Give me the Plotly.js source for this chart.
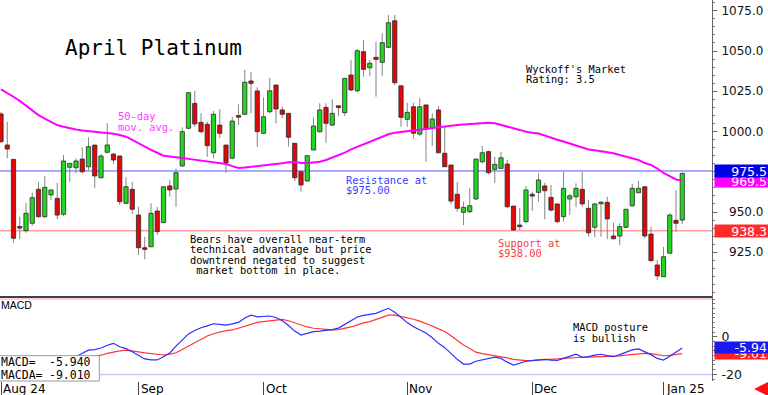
<!DOCTYPE html>
<html><head><meta charset="utf-8">
<script src="https://cdn.plot.ly/plotly-3.0.1.min.js"></script>
<style>html,body{margin:0;padding:0;background:#fff;} #chart{width:768px;height:395px;}</style>
</head><body><div id="chart"></div>
<script>
// ---- data ----
const openP  = [1010.9,991.6,982.7,940.7,938.4,943.0,964.1,947.1,960.6,958.5,948.6,977.8,977.5,982.9,978.1,991.6,971.3,987.1,986.0,984.8,955.4,964.1,948.1,927.8,928.4,950.6,943.4,966.2,964.3,978.6,1002.0,1017.5,1005.7,1004.5,986.8,1004.0,991.6,983.4,1009.6,1010.7,1031.4,1025.2,998.9,1012.3,1028.9,1013.4,1011.3,992.7,975.0,969.3,988.5,999.9,1015.0,1004.0,1016.0,1011.7,1035.1,1025.3,1049.6,1039.6,1046.1,1043.0,1052.3,1068.8,1028.4,1007.6,1015.4,998.4,1016.5,1002.4,1013.4,986.5,979.2,961.0,949.8,950.2,958.1,981.2,987.5,976.5,977.1,979.8,953.7,941.9,944.0,961.0,962.2,966.2,959.1,955.0,947.1,958.1,959.5,964.1,952.3,940.5,955.2,956.0,935.1,935.1,940.5,953.9,962.0,965.7,936.3,917.1,909.8,924.4,944.8,945.0];
const highP  = [1012.1,1006.1,982.9,947.1,955.8,962.0,968.8,972.4,963.7,968.2,985.4,980.2,983.4,990.2,996.4,991.6,986.0,1005.1,986.5,984.8,971.6,968.8,953.3,934.7,955.4,953.3,965.7,969.9,977.1,1002.6,1024.7,1025.3,1011.3,1006.1,1012.9,1013.8,991.6,1009.2,1016.9,1038.2,1037.1,1027.5,1021.2,1033.4,1028.9,1015.4,1011.3,992.7,975.0,985.0,1008.8,1017.5,1017.5,1020.0,1016.0,1033.0,1044.4,1051.2,1056.8,1044.4,1055.8,1061.0,1072.4,1072.4,1028.4,1017.9,1017.9,1020.6,1016.5,1011.3,1015.8,1003.0,979.2,968.8,956.4,964.7,982.9,991.0,988.1,984.3,987.5,982.3,953.7,952.5,966.2,962.6,974.0,968.2,966.8,955.0,975.0,961.2,967.8,975.0,957.5,955.4,956.8,959.5,943.4,943.0,951.7,967.4,969.3,965.7,940.9,920.2,928.4,949.2,963.7,974.4];
const lowP   = [992.9,983.4,930.9,933.0,937.1,941.3,946.1,946.1,957.5,945.5,947.5,968.8,974.0,974.0,976.1,965.1,970.9,986.5,979.8,954.4,955.0,948.8,923.3,920.6,928.4,935.7,943.2,959.5,953.3,978.1,1001.4,1003.0,998.9,984.3,983.4,995.8,974.4,982.7,1004.0,1010.2,1011.3,990.6,998.4,1011.3,1005.1,1008.2,990.6,969.3,962.6,968.8,988.5,999.3,993.0,1003.4,1009.6,1009.6,1025.2,1024.1,1034.0,1034.5,1021.6,1034.5,1051.7,1028.9,1003.0,1003.0,995.8,997.2,981.2,991.0,986.5,978.1,954.8,950.2,941.9,949.2,957.5,980.2,973.4,968.2,977.1,952.3,938.4,938.8,943.0,950.8,956.4,945.5,950.2,943.0,944.0,948.1,953.3,953.3,934.7,934.3,934.7,933.2,933.0,929.5,940.1,953.3,961.6,933.7,919.1,907.8,909.8,924.4,937.8,942.5];
const closeP = [993.7,989.1,933.7,940.3,949.2,958.9,947.1,965.3,963.7,948.1,981.7,980.2,981.7,975.0,990.6,972.4,984.8,991.6,982.3,956.4,965.7,951.7,927.8,926.8,949.2,937.8,965.7,963.7,974.4,999.9,1024.1,1004.7,999.9,991.2,1010.7,998.9,980.6,1006.5,1009.2,1030.6,1029.9,999.9,1009.2,1025.3,1014.0,1010.7,996.4,971.3,966.8,985.0,1003.4,1013.4,1005.1,1011.3,1014.8,1033.0,1025.8,1050.2,1038.6,1042.4,1044.8,1055.2,1067.6,1030.3,1008.8,1011.9,998.9,1015.4,1001.4,1007.8,986.8,978.1,956.8,952.3,952.9,953.9,982.9,986.8,974.4,979.6,983.7,953.3,938.8,940.9,963.7,959.9,969.9,963.2,951.2,944.0,964.7,960.1,964.7,955.0,937.1,955.0,956.0,945.7,933.4,940.9,951.7,964.7,964.7,935.1,919.8,910.3,922.2,948.1,943.0,974.0];
const ma50   = [1026.2,1024,1021.6,1019,1016,1013,1010.2,1008,1005.8,1004,1003,1002,1001.2,1000.6,1000.2,999.8,999.5,999.2,998.6,997.8,996.8,994.8,992.6,990.8,988.6,986.8,985,984.5,984.2,983.6,983,982.4,981.9,981.4,980.9,980.3,979.8,978.5,977.3,977.6,978,978.4,978.9,979.4,979.8,980.3,980.9,981.1,980.5,980.4,980.8,981.2,982.3,983.7,985.3,986.9,988.9,990.4,992,993.5,995,996.6,998.3,999.3,999.8,1000.3,1000.8,1001.2,1001.6,1002,1002.5,1003,1003.6,1004,1004.3,1004.7,1005.1,1005.5,1005.5,1005.1,1004.2,1003.1,1002,1001,999.9,999.3,998.8,997.5,996,994.9,993.8,992.6,991.3,990,988.8,988.3,987.8,987.2,986.5,985.4,984.3,983.3,982.3,980.4,979.2,977,974.3,972.3,970.2,969.5];
const macd   = [-15,-15.5,-16.5,-17,-17,-16.5,-15.5,-14.5,-13.5,-12.8,-11.8,-11,-10.6,-8.8,-7.1,-6.8,-6.0,-4.5,-3.5,-5.3,-6.3,-8.0,-10.0,-11.8,-12.3,-12.3,-10.6,-8.6,-5.0,-1.5,1.5,3.3,4.8,5.8,6.9,6.6,6.2,6.8,7.6,10.0,11.5,10.6,10.8,11.0,10.2,8.5,6.0,3.0,0.9,1.8,2.7,3.0,3.2,3.8,4.6,6.5,8.5,10.5,11.3,11.8,12.4,13.8,15.1,13.0,10.0,7.5,5.3,3.8,2.0,-0.5,-3.5,-5.8,-9.0,-12.0,-14.5,-14.5,-13.0,-12.2,-11.6,-10.8,-11.5,-13.5,-15.0,-14.0,-13.0,-12.7,-12.2,-12.0,-12.4,-12.6,-11.5,-10.5,-9.3,-10.9,-10.6,-9.8,-9.3,-10.0,-10.6,-9.5,-8.2,-7.0,-6.5,-8.0,-9.5,-11.5,-12.4,-10.3,-8.0,-5.94];
const macdA  = [-12,-12.5,-13,-13.5,-14,-14.3,-14.5,-14.5,-14.3,-14,-13.6,-13,-12.4,-11.8,-11.2,-10.5,-9.8,-8.8,-8.0,-7.5,-7.1,-7.4,-8.0,-8.6,-9.1,-9.5,-9.7,-9.2,-8.5,-6.8,-5.0,-3.0,-1.2,0.4,1.6,2.6,3.2,3.6,4.5,5.4,6.7,7.6,8.0,8.5,9.0,9.2,8.5,7.3,6.2,5.2,4.5,4.1,3.8,3.6,3.8,4.4,5.2,6.3,7.4,8.0,9.2,10.5,11.5,11.5,10.9,10.2,9.3,8.3,7.1,5.7,4.2,2.8,0.5,-2.0,-4.4,-6.2,-8.2,-9.0,-9.5,-9.9,-10.4,-11.2,-12.0,-12.5,-12.7,-12.6,-12.5,-12.4,-12.1,-11.8,-11.5,-11.2,-11.0,-10.9,-10.8,-10.7,-10.7,-10.6,-10.6,-10.2,-9.8,-9.4,-9.1,-8.8,-9.0,-9.6,-10.1,-9.9,-9.4,-9.01];
const dateTickIdx  = [0, 22, 42, 65, 85, 106];
const dateTickText = ['Aug 24', 'Sep', 'Oct', 'Nov', 'Dec', 'Jan 25'];
const priceTicks = [925, 950, 975, 1000, 1025, 1050, 1075];
const hiddenPriceTick = 975; // its label sits under the last-price box in the reference
const macdTicks = [0, -20];
const macdTickText = ['0', '-20'];
const resistance = 975.5, support = 938.3, maLast = 969.5;
const macdLast = -5.94, macdALast = -9.01;
const macdBands = [20, -20];

// ---- derived ----
const idx = openP.map((_, i) => i);
const bodyLen = idx.map(i => Math.max(Math.abs(closeP[i] - openP[i]), 1.0));
const bodyBase = idx.map(i => (openP[i] + closeP[i]) / 2 - bodyLen[i] / 2);
const bodyColor = idx.map(i => closeP[i] >= openP[i] ? '#1fd81f' : '#e00808');
const wickBase = lowP;
const wickLen = idx.map(i => highP[i] - lowP[i]);

const PW = 712, PH = 381;
const px = x => x / PW;
const py = y => 1 - y / PH;
const mono = 'DejaVu Sans Mono, monospace';
const sans = 'DejaVu Sans, sans-serif';

const traces = [
  {type: 'bar', x: idx, base: wickBase, y: wickLen, width: 0.17, xaxis: 'x', yaxis: 'y',
   marker: {color: '#8a8a8a', line: {width: 0}}, hoverinfo: 'skip'},
  {type: 'bar', x: idx, base: bodyBase, y: bodyLen, width: 0.68, xaxis: 'x', yaxis: 'y',
   marker: {color: bodyColor, line: {color: '#2a2a2a', width: 0.8}}, hoverinfo: 'skip'},
  {type: 'scatter', mode: 'lines', x: idx, y: ma50, xaxis: 'x', yaxis: 'y',
   line: {color: '#ff00ff', width: 2}},
  {type: 'scatter', mode: 'lines', x: idx, y: macdA, xaxis: 'x', yaxis: 'y2',
   line: {color: '#ff3535', width: 1.2}},
  {type: 'scatter', mode: 'lines', x: idx, y: macd, xaxis: 'x', yaxis: 'y2',
   line: {color: '#2e2eff', width: 1.2}}
];

function note(x, y, t, color, size, family) {
  return {xref: 'paper', yref: 'paper', x: px(x), y: py(y), xanchor: 'left', yanchor: 'middle',
    text: t, showarrow: false, borderpad: 0,
    font: {family: family || mono, size: size || 10.4, color: color || '#000'}};
}
function noteR(x, y, t, color, size, family) {
  const a = note(x, y, t, color, size, family); a.xanchor = 'right'; return a;
}
function valBox(yref, v, t, bg, size, h) {
  return {xref: 'paper', yref: yref, x: 1, y: v, xanchor: 'left', yanchor: 'middle', xshift: 2,
    text: t, showarrow: false, bgcolor: bg, width: 51, height: h || 10, align: 'right', borderpad: 1,
    font: {family: sans, size: size, color: '#ffffff'}};
}

const magenta = '#ff3cff', blueTxt = '#3a3aff', redTxt = '#ff3a3a';
const annotations = [
  note(64, 48, 'April Platinum', '#000', 21),
  note(525, 69, "Wyckoff's Market"),
  note(525, 79.5, 'Rating: 3.5'),
  note(117, 115.7, '50-day', magenta),
  note(117, 126.5, 'mov. avg.', magenta),
  note(345, 180, 'Resistance at', blueTxt),
  note(345, 190.3, '$975.00', blueTxt),
  note(189, 239, 'Bears have overall near-term'),
  note(189, 249.3, 'technical advantage but price'),
  note(189, 259.6, 'downtrend negated to suggest'),
  note(189, 270, '\u00a0market bottom in place.'),
  note(497, 243, 'Support at', redTxt),
  note(497, 253.3, '$938.00', redTxt),
  note(572, 327.3, 'MACD posture'),
  note(572, 337.8, 'is bullish'),
  note(0, 305, 'MACD', '#000', 10.5, 'Liberation Sans, Arial, sans-serif'),
  note(0, 362, 'MACD=', '#000', 11.5),
  noteR(92, 362, macdLast.toFixed(3), '#000', 11.5),
  note(0, 375, 'MACDA=', '#000', 11.5),
  noteR(92, 375, macdALast.toFixed(3), '#000', 11.5),
  valBox('y', maLast, maLast.toFixed(1), '#ff00ff', 12.5),
  valBox('y', resistance, resistance.toFixed(1), '#0000e8', 12.5),
  valBox('y', support, support.toFixed(1), '#ff2a2a', 12.5),
  valBox('y2', macdALast, macdALast.toFixed(2), '#ff2020', 12.5, 9),
  valBox('y2', macdLast, macdLast.toFixed(2), '#1a1af0', 12.5, 9)
];
dateTickIdx.forEach((v, k) => {
  annotations.push({xref: 'x', yref: 'paper', x: v, y: py(389), xanchor: 'left', yanchor: 'middle',
    xshift: 1, text: dateTickText[k], showarrow: false, borderpad: 0,
    font: {family: sans, size: 12, color: '#000'}});
});
annotations.push({xref: 'paper', yref: 'paper', x: px(754), y: py(389), ax: 13, ay: 0,
  text: '', showarrow: true, arrowhead: 2, arrowsize: 1, arrowwidth: 3, arrowcolor: '#ff1010'});

const mainBottom = 1 - 297 / PH;
const shapes = [
  {type: 'line', xref: 'paper', yref: 'y', x0: 0, x1: 1, y0: resistance, y1: resistance,
   line: {color: '#5555ff', width: 1}, layer: 'below'},
  {type: 'line', xref: 'paper', yref: 'y', x0: 0, x1: 1, y0: support, y1: support,
   line: {color: '#ff6a6a', width: 1}, layer: 'below'},
  {type: 'line', xref: 'paper', yref: 'y2', x0: 0, x1: 1, y0: macdBands[0], y1: macdBands[0],
   line: {color: '#ffc4c4', width: 1.5}, layer: 'below'},
  {type: 'line', xref: 'paper', yref: 'y2', x0: 0, x1: 1, y0: macdBands[1], y1: macdBands[1],
   line: {color: '#c8c8ff', width: 1.5}, layer: 'below'},
  {type: 'line', xref: 'paper', yref: 'paper', x0: 0, x1: 1, y0: mainBottom, y1: mainBottom,
   line: {color: '#000', width: 1.5}, layer: 'above'},
  {type: 'rect', xref: 'paper', yref: 'paper', x0: px(-1), x1: px(99.3), y0: py(381), y1: py(355.7),
   line: {color: '#9a9a9a', width: 1}, fillcolor: '#ffffff', layer: 'above'}
];

const layout = {
  width: 768, height: 395, margin: {l: 0, r: 56, t: 0, b: 14, pad: 0},
  paper_bgcolor: '#ffffff', plot_bgcolor: '#ffffff', showlegend: false, barmode: 'overlay',
  xaxis: {range: [-0.16, 113.76], anchor: 'y2', showgrid: false, zeroline: false, showline: false,
    tickmode: 'array', tickvals: dateTickIdx, ticks: 'outside', ticklen: 14, tickcolor: '#444',
    tickwidth: 1, showticklabels: false, fixedrange: true},
  yaxis: {domain: [mainBottom, 1], range: [897.2, 1081.7], side: 'right', anchor: 'x',
    showgrid: false, zeroline: false, showline: true, linecolor: '#666', linewidth: 1,
    tickmode: 'array', tickvals: priceTicks,
    ticktext: priceTicks.map(v => v === hiddenPriceTick ? '' : v.toFixed(1).padStart(6, '\u2007')),
    ticks: 'outside', ticklen: 4, tickcolor: '#666', ticklabelstandoff: 2,
    tickfont: {family: sans, size: 12, color: '#111'},
    minor: {tickmode: 'linear', tick0: 0, dtick: 5, ticks: 'outside', ticklen: 2, tickcolor: '#777'}},
  yaxis2: {domain: [0, mainBottom], range: [-23.5, 21.1], side: 'right', anchor: 'x',
    showgrid: false, zeroline: false, showline: true, linecolor: '#666', linewidth: 1,
    tickmode: 'array', tickvals: macdTicks, ticktext: macdTickText,
    ticks: 'outside', ticklen: 4, tickcolor: '#666', ticklabelstandoff: 2,
    tickfont: {family: sans, size: 12.5, color: '#111'},
    minor: {tickmode: 'linear', tick0: 0, dtick: 2.5, ticks: 'outside', ticklen: 2, tickcolor: '#777'}},
  shapes: shapes,
  annotations: annotations
};

Plotly.newPlot('chart', traces, layout, {displayModeBar: false, staticPlot: true});
</script>
</body></html>
